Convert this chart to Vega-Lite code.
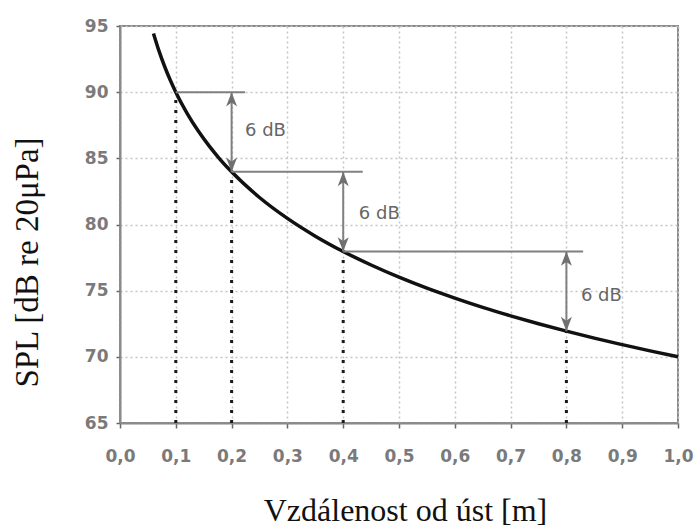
{
  "$schema": "https://vega.github.io/schema/vega-lite/v6.json",
  "width": 558,
  "height": 397,
  "autosize": "none",
  "padding": {"left": 120, "top": 26, "right": 18, "bottom": 107},
  "background": "white",
  "config": {
    "view": {"stroke": "#8a8a8a", "strokeWidth": 2}
  },
  "datasets": {
    "curve": [
      {"r": 0.06, "spl": 94.44}, {"r": 0.07, "spl": 93.10}, {"r": 0.08, "spl": 91.94}, {"r": 0.09, "spl": 90.92},
      {"r": 0.10, "spl": 90.00}, {"r": 0.12, "spl": 88.42}, {"r": 0.14, "spl": 87.08}, {"r": 0.16, "spl": 85.92},
      {"r": 0.18, "spl": 84.89}, {"r": 0.20, "spl": 83.98}, {"r": 0.25, "spl": 82.04}, {"r": 0.30, "spl": 80.46},
      {"r": 0.35, "spl": 79.12}, {"r": 0.40, "spl": 77.96}, {"r": 0.45, "spl": 76.94}, {"r": 0.50, "spl": 76.02},
      {"r": 0.55, "spl": 75.19}, {"r": 0.60, "spl": 74.44}, {"r": 0.65, "spl": 73.74}, {"r": 0.70, "spl": 73.10},
      {"r": 0.75, "spl": 72.50}, {"r": 0.80, "spl": 71.94}, {"r": 0.85, "spl": 71.41}, {"r": 0.90, "spl": 70.92},
      {"r": 0.95, "spl": 70.45}, {"r": 1.00, "spl": 70.00}
    ],
    "drops": [
      {"r": 0.1, "spl": 90.0, "floor": 65}, {"r": 0.2, "spl": 83.98, "floor": 65}, {"r": 0.4, "spl": 77.96, "floor": 65}, {"r": 0.8, "spl": 71.94, "floor": 65}
    ],
    "levels": [
      {"x1": 0.1, "x2": 0.224, "lvl": 90.0},
      {"x1": 0.2, "x2": 0.435, "lvl": 83.98},
      {"x1": 0.4, "x2": 0.83, "lvl": 77.96}
    ],
    "arrows": [
      {"ax": 0.2, "ytop": 90.0, "ybot": 83.98},
      {"ax": 0.4, "ytop": 83.98, "ybot": 77.96},
      {"ax": 0.8, "ytop": 77.96, "ybot": 71.94}
    ],
    "labels": [
      {"lx": 0.224, "ly": 87.1, "txt": "6 dB"},
      {"lx": 0.428, "ly": 80.8, "txt": "6 dB"},
      {"lx": 0.826, "ly": 74.6, "txt": "6 dB"}
    ]
  },
  "layer": [
    {
      "data": {"name": "curve"},
      "mark": {"type": "line", "color": "#111", "strokeWidth": 3.5, "interpolate": "monotone"},
      "encoding": {
        "x": {"field": "r", "type": "quantitative",
          "scale": {"domain": [0, 1], "nice": false, "zero": false},
          "axis": {"values": [0, 0.1, 0.2, 0.3, 0.4, 0.5, 0.6, 0.7, 0.8, 0.9, 1.0], "tickCount": 40, "format": ".1f",
            "labelExpr": "replace(datum.label, '.', ',')", "labelPadding": 20, "tickSize": 5, "tickColor": "#666", "tickWidth": 1.5,
            "labelFont": "DejaVu Sans", "labelFontSize": 17, "labelFontWeight": "bold", "labelColor": "#7a7a7a",
            "domainColor": "#8a8a8a", "domainWidth": 2, "grid": true, "gridColor": "#c4c4c4", "gridDash": [2, 3], "gridWidth": 1.5,
            "title": "Vzdálenost od úst [m]", "titleFont": "Liberation Serif", "titleFontWeight": "normal", "titleColor": "#111", "titleFontSize": 32,
            "titleX": 285, "titleY": 97, "titleAlign": "center", "titleBaseline": "alphabetic",
            "labelOverlap": false, "labelFlush": false}},
        "y": {"field": "spl", "type": "quantitative",
          "scale": {"domain": [65, 95], "nice": false, "zero": false},
          "axis": {"values": [65, 70, 75, 80, 85, 90, 95], "tickCount": 40,
            "labelOverlap": false, "labelPadding": 8, "tickSize": 4, "tickColor": "#666", "tickWidth": 1.5,
            "labelFont": "DejaVu Sans", "labelFontSize": 17, "labelFontWeight": "bold", "labelColor": "#7a7a7a",
            "domainColor": "#8a8a8a", "domainWidth": 2, "grid": true, "gridColor": "#c4c4c4", "gridDash": [2, 3], "gridWidth": 1.5,
            "title": "SPL [dB re 20μPa]", "titleFont": "Liberation Serif", "titleFontWeight": "normal", "titleColor": "#111", "titleFontSize": 33,
            "titleAngle": -90, "titleX": -83, "titleY": 236, "titleAlign": "center", "titleBaseline": "alphabetic"}}
      }
    },
    {
      "data": {"name": "drops"},
      "mark": {"type": "rule", "color": "#1a1a1a", "strokeWidth": 3, "strokeDash": [3, 7]},
      "encoding": {
        "x": {"field": "r", "type": "quantitative"},
        "y": {"field": "floor", "type": "quantitative"},
        "y2": {"field": "spl"}
      }
    },
    {
      "data": {"name": "levels"},
      "mark": {"type": "rule", "color": "#808080", "strokeWidth": 2},
      "encoding": {
        "x": {"field": "x1", "type": "quantitative"},
        "x2": {"field": "x2"},
        "y": {"field": "lvl", "type": "quantitative"}
      }
    },
    {
      "data": {"name": "arrows"},
      "mark": {"type": "rule", "color": "#808080", "strokeWidth": 2},
      "encoding": {
        "x": {"field": "ax", "type": "quantitative"},
        "y": {"field": "ytop", "type": "quantitative"},
        "y2": {"field": "ybot"}
      }
    },
    {
      "data": {"name": "arrows"},
      "mark": {"type": "point", "shape": "M0,0 L1,2.6 L0,1.9 L-1,2.6 Z", "filled": true, "color": "#707070", "opacity": 1, "size": 121},
      "encoding": {
        "x": {"field": "ax", "type": "quantitative"},
        "y": {"field": "ytop", "type": "quantitative"}
      }
    },
    {
      "data": {"name": "arrows"},
      "mark": {"type": "point", "shape": "M0,0 L1,-2.6 L0,-1.9 L-1,-2.6 Z", "filled": true, "color": "#707070", "opacity": 1, "size": 121},
      "encoding": {
        "x": {"field": "ax", "type": "quantitative"},
        "y": {"field": "ybot", "type": "quantitative"}
      }
    },
    {
      "data": {"name": "labels"},
      "mark": {"type": "text", "align": "left", "baseline": "middle", "font": "DejaVu Sans", "fontSize": 18, "color": "#666"},
      "encoding": {
        "x": {"field": "lx", "type": "quantitative"},
        "y": {"field": "ly", "type": "quantitative"},
        "text": {"field": "txt"}
      }
    }
  ]
}
